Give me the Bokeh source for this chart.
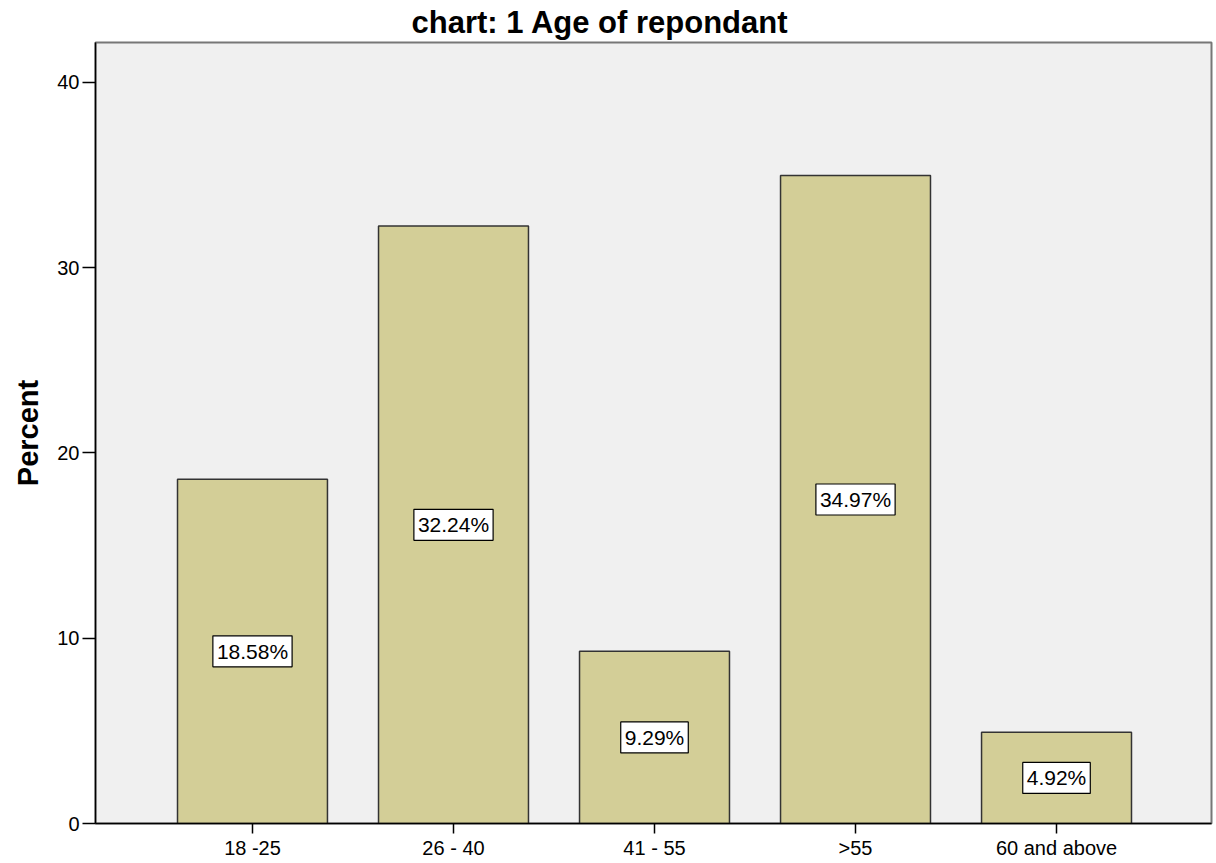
from bokeh.plotting import figure
from bokeh.models import ColumnDataSource, FixedTicker, Range1d
from bokeh.core.properties import value
from bokeh.embed import file_html
from bokeh.resources import INLINE

categories = ["18 -25", "26 - 40", "41 - 55", ">55", "60 and above"]
percents = [18.58, 32.24, 9.29, 34.97, 4.92]
label_texts = ["18.58%", "32.24%", "9.29%", "34.97%", "4.92%"]
y_ticks = [0, 10, 20, 30, 40]

xs = list(range(1, len(categories) + 1))
src = ColumnDataSource(dict(
    x=xs,
    top=percents,
    mid=[v / 2 for v in percents],
    lab=label_texts,
))

p = figure(width=1216, height=863, output_backend="svg", toolbar_location=None,
           x_range=Range1d(0.219, 5.771), y_range=Range1d(0, 42.15),
           min_border_left=95, min_border_right=5, min_border_top=40, min_border_bottom=40)

p.border_fill_color = "white"
p.title.text = "chart: 1 Age of repondant"
p.title.align = "left"
p.title.offset = 316
p.title.standoff = 5
p.title.text_font = "Liberation Sans"
p.title.text_font_size = "31px"
p.title.text_font_style = "bold"
p.title.text_color = "black"

p.background_fill_color = "#F0F0F0"
p.outline_line_color = "#777777"
p.outline_line_width = 2

p.vbar(x="x", top="top", width=0.746, source=src, fill_color="#D3CE97",
       line_color="#333333", line_width=1.5)

p.text(x="x", y="mid", text="lab", source=src, text_align="center",
       text_baseline="middle", text_font=value("Liberation Sans"), text_font_size="21px",
       text_color="black", background_fill_color="white",
       border_line_color="black", border_line_width=1.2, padding=4)

p.xgrid.visible = False
p.ygrid.visible = False

xa = p.xaxis[0]
xa.ticker = FixedTicker(ticks=xs)
xa.major_label_overrides = {i: c for i, c in zip(xs, categories)}
xa.major_label_text_font = "Liberation Sans"
xa.major_label_text_font_size = "20px"
xa.major_label_text_color = "black"
xa.major_tick_out = 10
xa.major_tick_in = 0
xa.minor_tick_line_color = None
xa.axis_line_color = "black"
xa.axis_line_width = 1.5
xa.major_tick_line_width = 1.5
xa.major_label_standoff = 3

ya = p.yaxis[0]
ya.ticker = FixedTicker(ticks=y_ticks)
ya.axis_label = "Percent"
ya.axis_label_text_font = "Liberation Sans"
ya.axis_label_text_font_size = "29px"
ya.axis_label_text_font_style = "bold"
ya.axis_label_text_color = "black"
ya.axis_label_standoff = 10
ya.major_label_text_font = "Liberation Sans"
ya.major_label_text_font_size = "20px"
ya.major_label_text_color = "black"
ya.major_tick_out = 13
ya.major_tick_in = 0
ya.minor_tick_line_color = None
ya.axis_line_color = "black"
ya.axis_line_width = 1.5
ya.major_tick_line_width = 1.5
ya.major_label_standoff = 3

open("out.html", "w").write(file_html(p, INLINE))
